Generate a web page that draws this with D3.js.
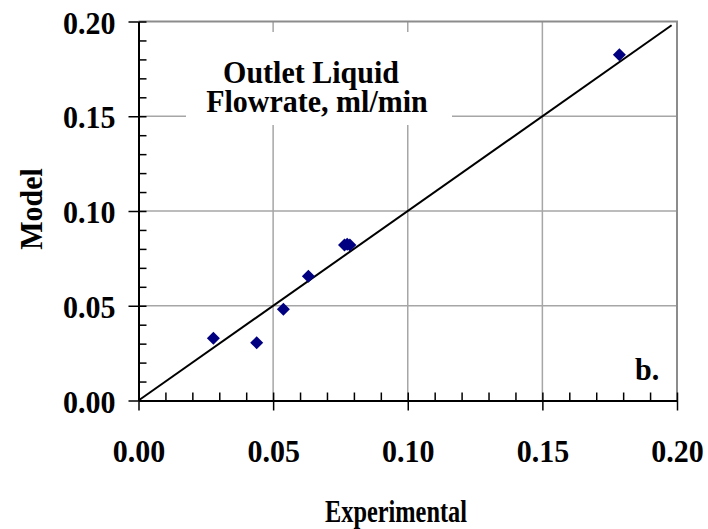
<!DOCTYPE html>
<html>
<head>
<meta charset="utf-8">
<script src="https://cdn.jsdelivr.net/npm/d3@7"></script>
<style>
  html, body { margin: 0; padding: 0; background: #fff; }
  svg text { font-family: "Liberation Serif", "Times New Roman", serif; font-weight: bold; fill: #000; }
</style>
</head>
<body>
<svg id="chart" width="708" height="529"></svg>
<script>
// Experimental vs. model outlet liquid flowrate (ml/min)
const experimental = [0.0278, 0.0439, 0.0538, 0.0631, 0.0765, 0.0775, 0.0785, 0.1786];
const model        = [0.0328, 0.0305, 0.0481, 0.0656, 0.0820, 0.0825, 0.0820, 0.1824];
const majorTicks = [0, 0.05, 0.10, 0.15, 0.20];
const minorTicks = d3.range(0, 21).map(i => i / 100);
const parityLine = [0, 0.198];
const titleLines = ["Outlet Liquid", "Flowrate, ml/min"];

const FONT = 32.5;          // tall bold serif
const SQUEEZE = 30 / 32.5;  // narrowed to a 30px advance

const svg = d3.select("#chart");
const x = d3.scaleLinear().domain([0, 0.2]).range([138.5, 677]);
const y = d3.scaleLinear().domain([0, 0.2]).range([400.5, 21.5]);
const fmt = d3.format(".2f");

// grid
const grid = svg.append("g").attr("stroke", "#a6a6a6").attr("stroke-width", 1.5);
grid.selectAll("line.v").data(majorTicks.slice(1, 4)).join("line")
  .attr("x1", d => x(d)).attr("x2", d => x(d))
  .attr("y1", y(0.2)).attr("y2", y(0));
grid.selectAll("line.h").data(majorTicks.slice(1, 4)).join("line")
  .attr("x1", x(0)).attr("x2", x(0.2))
  .attr("y1", d => y(d)).attr("y2", d => y(d));

// plot frame (top and right)
svg.append("path")
  .attr("d", `M${x(0)},${y(0.2)}H${x(0.2)}V${y(0)}`)
  .attr("fill", "none").attr("stroke", "#8c8c8c").attr("stroke-width", 2);

// title box, two lines in one text block
svg.append("rect").attr("x", 186).attr("y", 32).attr("width", 266).attr("height", 93).attr("fill", "#fff");
const title = svg.append("text").attr("text-anchor", "middle").style("font-size", FONT + "px");
title.append("tspan").attr("class", "sq").attr("x", 311).attr("y", 83).text(titleLines[0]);
title.append("tspan").attr("class", "sq").attr("x", 317).attr("y", 112).text(titleLines[1]);

// parity line
svg.append("line")
  .attr("x1", x(parityLine[0])).attr("y1", y(parityLine[0]))
  .attr("x2", x(parityLine[1])).attr("y2", y(parityLine[1]))
  .attr("stroke", "#000").attr("stroke-width", 2);

// axes
function styleAxis(g) {
  g.selectAll("path.domain").attr("stroke", "#000").attr("stroke-width", 2);
  g.selectAll(".tick line").attr("stroke", "#000").attr("stroke-width", 1.5);
  g.selectAll(".tick text").attr("class", "sq")
    .style("font-size", FONT + "px").style("font-family", "Liberation Serif, serif").style("font-weight", "bold");
}
svg.append("g").attr("transform", `translate(0,${y(0)})`)
  .call(d3.axisBottom(x).tickValues(minorTicks).tickSize(-8).tickSizeOuter(0).tickFormat(""))
  .call(styleAxis);
svg.append("g").attr("transform", `translate(${x(0)},0)`)
  .call(d3.axisLeft(y).tickValues(minorTicks).tickSize(-8).tickSizeOuter(0).tickFormat(""))
  .call(styleAxis);
const xAxis = svg.append("g").attr("transform", `translate(0,${y(0)})`)
  .call(d3.axisBottom(x).tickValues(majorTicks).tickSize(10).tickSizeOuter(0).tickPadding(30).tickFormat(fmt))
  .call(styleAxis);
xAxis.selectAll(".tick text").attr("dy", null).attr("y", 61.5);
const yAxis = svg.append("g").attr("transform", `translate(${x(0)},0)`)
  .call(d3.axisLeft(y).tickValues(majorTicks).tickSize(10).tickSizeOuter(0).tickPadding(13).tickFormat(fmt))
  .call(styleAxis);
yAxis.selectAll(".tick text").attr("dy", "0.36em");
svg.selectAll(".tick text").attr("fill", "#000");

// data points
const pts = experimental.map((v, i) => [v, model[i]]);
const r = 6.5;
svg.append("g").selectAll("path").data(pts).join("path")
  .attr("d", d => `M${x(d[0])},${y(d[1]) - r}L${x(d[0]) + r},${y(d[1])}L${x(d[0])},${y(d[1]) + r}L${x(d[0]) - r},${y(d[1])}Z`)
  .attr("fill", "#000080");

// labels
svg.append("text").attr("class", "sq").attr("x", 635).attr("y", 380).style("font-size", FONT + "px").text("b.");
svg.append("text").attr("x", 396).attr("y", 521.5).attr("text-anchor", "middle")
  .attr("textLength", 142).attr("lengthAdjust", "spacingAndGlyphs")
  .style("font-size", FONT + "px").text("Experimental");
svg.append("text").attr("class", "sq").attr("transform", "translate(42,209) rotate(-90)").attr("text-anchor", "middle")
  .style("font-size", FONT + "px").text("Model");

// narrow the tall glyphs to their usual advance
svg.selectAll(".sq").each(function () {
  const w = this.getComputedTextLength();
  d3.select(this).attr("textLength", (w * SQUEEZE).toFixed(1)).attr("lengthAdjust", "spacingAndGlyphs");
});
</script>
</body>
</html>
